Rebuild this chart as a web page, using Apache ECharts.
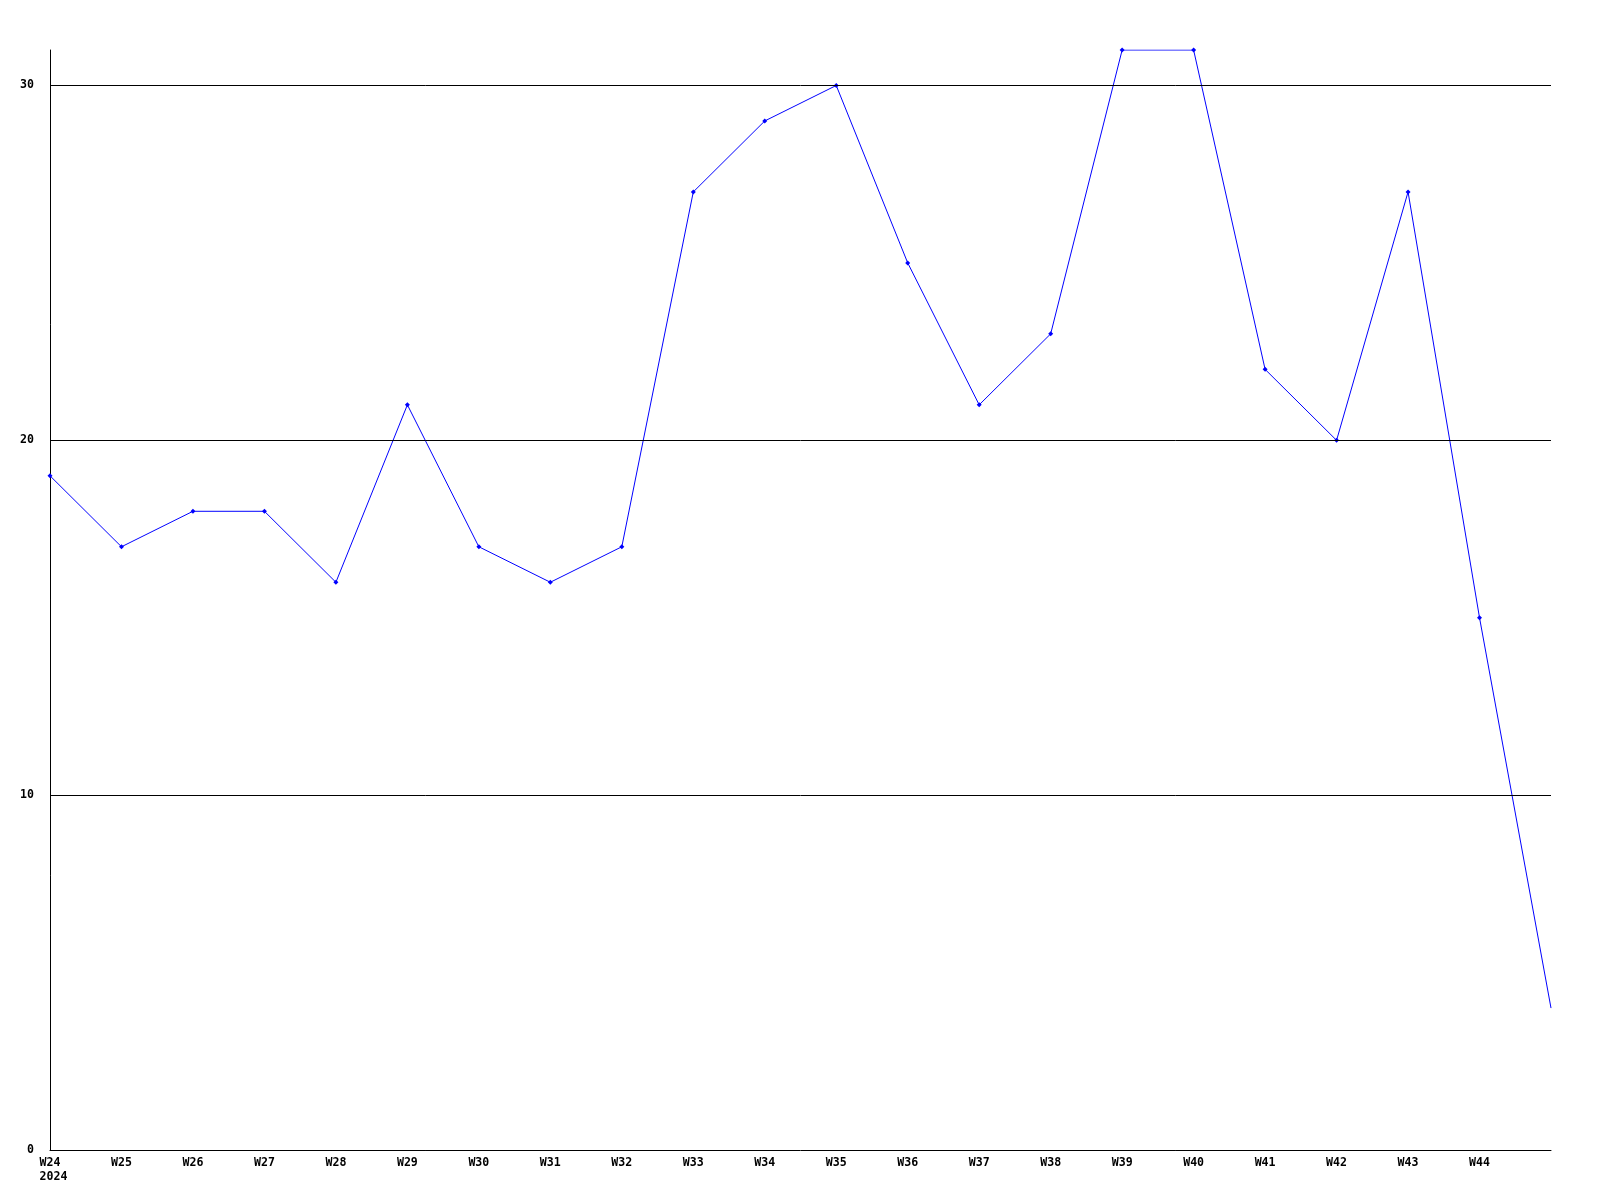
<!DOCTYPE html>
<html><head><meta charset="utf-8">
<script src="https://cdn.jsdelivr.net/npm/echarts@6/dist/echarts.min.js"></script>
<style>html,body{margin:0;padding:0;background:#fff}#c{width:1600px;height:1200px}</style>
</head><body><div id="c"></div>
<script>
const weeks = ["W24","W25","W26","W27","W28","W29","W30","W31","W32","W33","W34","W35","W36","W37","W38","W39","W40","W41","W42","W43","W44","W45"];
const values = [19,17,18,18,16,21,17,16,17,27,29,30,25,21,23,31,31,22,20,27,15,4];
const yearLabel = "2024";
const gridValues = [10,20,30];
const chart = echarts.init(document.getElementById('c'));
const font = {fontFamily:'DejaVu Sans Mono', fontWeight:'bold', fontSize:11.6, color:'#000'};
const seriesData = values.map((v,i)=> i===values.length-1 ? {value:v, symbol:'none'} : v);
chart.setOption({
  animation:false,
  grid:{left:50, right:49, top:50, bottom:50, containLabel:false},
  xAxis:{type:'category', data:weeks, boundaryGap:false,
    axisLine:{lineStyle:{color:'#000', width:1}}, axisTick:{show:false},
    axisLabel:Object.assign({}, font, {interval:0, margin:6, lineHeight:14,
      formatter:(v,i)=> i===weeks.length-1 ? '' : (i===0 ? v+'\n '+yearLabel : v)}),
    splitLine:{show:false}},
  yAxis:{type:'value', min:0, max:31, interval:10,
    axisLine:{show:true, lineStyle:{color:'#000', width:1}}, axisTick:{show:false},
    axisLabel:Object.assign({}, font, {margin:16, showMaxLabel:false}),
    splitLine:{show:false}},
  series:[{type:'line', data:seriesData, symbol:'diamond', symbolSize:5,
    lineStyle:{color:'#0000ff', width:1}, itemStyle:{color:'#0000ff'},
    markLine:{silent:true, symbol:'none', label:{show:false},
      lineStyle:{color:'#000', width:1, type:'solid'},
      data:gridValues.map(v=>({yAxis:v}))}, z:3}]
});
</script></body></html>
